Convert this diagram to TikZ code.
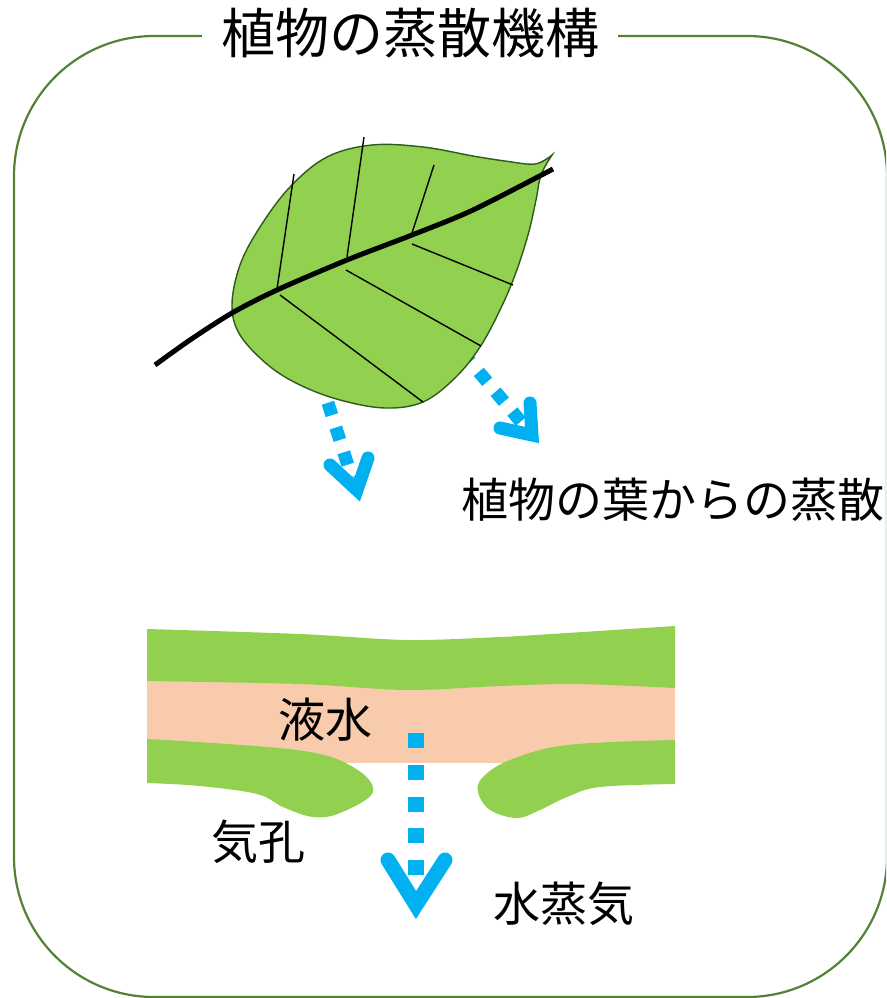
\documentclass[tikz,border=0pt]{standalone}
\usepackage{fontspec}
\newfontfamily\jpfont{Noto Sans CJK JP}
\definecolor{framegreen}{HTML}{548235}
\definecolor{leafgreen}{HTML}{92D050}
\definecolor{leafedge}{HTML}{2E5A1C}
\definecolor{sap}{HTML}{F8CBAD}
\definecolor{steam}{HTML}{00B0F0}
\tikzset{
  jptext/.style={inner sep=0pt, anchor=base west,
    font=\jpfont\fontsize{47pt}{47pt}\selectfont},
  vapour/.style={draw=steam, line width=13pt, dash pattern=on 13pt off 13pt},
  vhead/.style={draw=steam, line width=13pt, line cap=round, line join=miter},
  vein/.style={line width=1.4pt}
}

\begin{document}
\begin{tikzpicture}[x=1pt,y=-1pt]
    \useasboundingbox (0,0) rectangle (886,998);
    \clip (0,0) rectangle (886,998);
    % outer frame and its title
    \draw[framegreen, line width=2.2pt, rounded corners=140pt] (14,36) rectangle (887,997);
    \node[fill=white, inner xsep=19pt, inner ysep=2pt, anchor=base,
          font=\jpfont\fontsize{54pt}{54pt}\selectfont] (title) at (410,53) {植物の蒸散機構};
    % vapour leaving the leaf
    \coordinate (s1) at (320,378);
    \coordinate (e1) at (352,478);
    \coordinate (t1) at (357,490);
    \coordinate (s2) at (462,352);
    \coordinate (e2) at (522,423);
    \coordinate (t2) at (532,435);
    \draw[vapour] (s1) -- (e1);
    \draw[vapour] (s2) -- (e2);
    \draw[vhead] (330,465) -- (t1) -- (368,458);
    \draw[vhead] (530,403) -- (t2) -- (500,428);
    % leaf blade
    \filldraw[fill=leafgreen, draw=leafedge, line width=1.4pt]
      plot[smooth, tension=0.6] coordinates {(552,155) (535,164) (505,161) (473,156)
        (423,147) (372,145) (327,157) (290,187) (260,227) (240,265) (232,305)
        (240,335) (268,365) (300,385) (340,400) (385,408) (423,402) (455,378)
        (480,347) (500,310) (515,275) (528,235) (536,200) (541,175) (552,155)} -- cycle;
    % midrib
    \draw[line width=5pt] plot[smooth] coordinates {(155,365) (190,340) (232,313)
      (277,290) (347,260) (412,235) (473,210) (553,169)};
    % side veins
    \draw[vein] (277,289) -- (294,174);
    \draw[vein] (347,257) -- (364,137);
    \draw[vein] (412,233) -- (434,165);
    \draw[vein] (280,295) -- (423,402);
    \draw[vein] (346,270) -- (481,346);
    \draw[vein] (412,244) -- (513,285);
    \node[jptext] (leaftxt) at (461,517) {植物の葉からの蒸散};
    % section through the leaf
    \fill[sap] (147,675) rectangle (675,763);
    \fill[leafgreen] (147,629) -- plot[smooth] coordinates {(147,629) (300,634)
      (407,640) (500,637) (567,633) (675,626)} -- (675,688)
      -- plot[smooth] coordinates {(675,688) (577,684) (500,686) (407,690)
      (300,684) (147,681)} -- cycle;
    \fill[leafgreen] (147,739) -- plot[smooth, tension=0.6] coordinates {(147,739)
      (297,750) (353,767) (373,792) (340,813) (313,817) (283,807) (257,794)
      (200,786) (147,783)} -- cycle;
    \fill[leafgreen] (675,740) -- plot[smooth, tension=0.6] coordinates {(675,740)
      (567,745) (510,760) (483,777) (478,792) (490,810) (517,818) (540,810)
      (567,797) (600,787) (675,784)} -- cycle;
    \node[jptext] (water) at (278,737) {液水};
    \node[jptext] (pore) at (211,859) {気孔};
    % vapour out of the pore
    \coordinate (s3) at (416,733);
    \coordinate (e3) at (416,876);
    \coordinate (t3) at (416,905);
    \draw[vapour, line width=16pt, dash pattern=on 15pt off 16.75pt] (s3) -- (e3);
    \draw[vhead, line width=15pt] (388,860) -- (t3) -- (445,860);
    \node[jptext] (steamtxt) at (493,921) {水蒸気};
\end{tikzpicture}
\end{document}
